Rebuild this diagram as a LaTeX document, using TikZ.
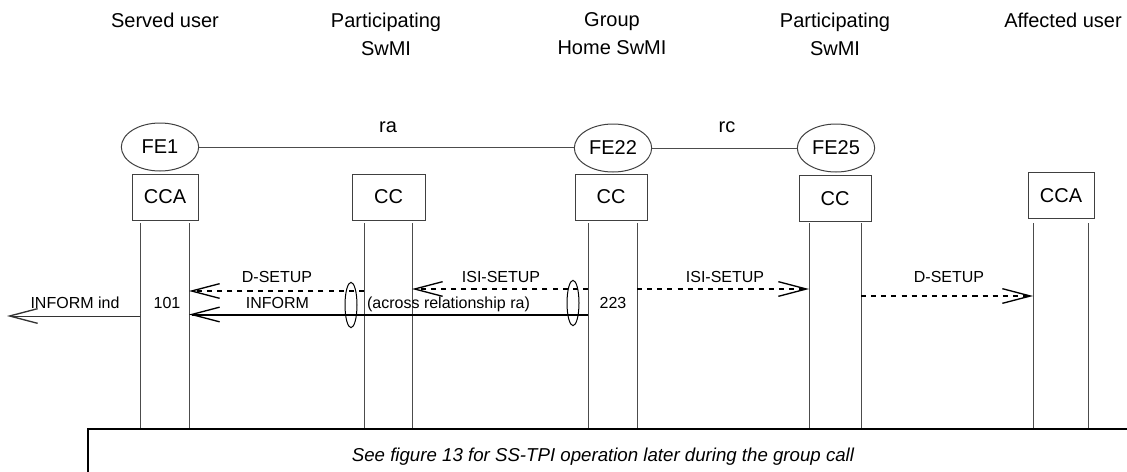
\documentclass[tikz,border=0pt]{standalone}
\usepackage{fontspec}
\setmainfont{Liberation Sans}
\usetikzlibrary{arrows.meta,shapes.geometric}
\tikzset{
  head/.style={anchor=north,inner sep=0pt,align=center,font=\fontsize{15}{21}\selectfont},
  fe/.style={ellipse,draw=black!75,line width=0.75pt,minimum width=58pt,minimum height=36pt,inner sep=0pt,font=\fontsize{15}{18}\selectfont},
  fbox/.style={rectangle,draw=black!75,line width=0.75pt,minimum height=34.5pt,inner sep=0pt,font=\fontsize{15}{18}\selectfont},
  life/.style={draw=black!70,line width=0.75pt},
  rel/.style={draw=black!70,line width=0.75pt},
  lbl/.style={anchor=base,inner sep=0pt,font=\fontsize{12}{14}\selectfont},
  barb/.style={-{Straight Barb[length=21pt,width=11pt,line width=1pt]}},
  sig/.style={barb,line width=1.2pt,dash pattern=on 3.8pt off 3.8pt},
  inform/.style={barb,line width=1.5pt},
  prim/.style={barb,line width=0.75pt,draw=black!80},
  cross/.style={ellipse,draw,line width=0.75pt,minimum width=9pt,minimum height=34pt,inner sep=0pt}
}
\begin{document}
\begin{tikzpicture}[x=0.75pt,y=-0.75pt]
\useasboundingbox (0,0) rectangle (1127,471);
% headings
\node[head] (h1) at (165,12.5) {Served user};
\node[head] (h2) at (386,12.5) {Participating\\SwMI};
\node[head] (h3) at (612,12.5) {Group\\Home SwMI};
\node[head] (h4) at (835,12.5) {Participating\\SwMI};
\node[head] (h5) at (1063,12.5) {Affected user};
% functional entities
\node[fe] (fe1) at (160,147) {FE1};
\node[fe] (fe22) at (613,148) {FE22};
\node[fe] (fe25) at (836,148) {FE25};
\draw[rel] (fe1) -- (fe1 -| fe22.west);
\draw[rel] (fe22) -- (fe25);
\node[lbl] (ra) at (388,132) {\fontsize{15}{18}\selectfont ra};
\node[lbl] (rc) at (727,132) {\fontsize{15}{18}\selectfont rc};
% boxes
\node[fbox,minimum width=49.5pt] (cca1) at (165,197) {CCA};
\node[fbox,minimum width=54.75pt] (cc2) at (388.5,197) {CC};
\node[fbox,minimum width=54pt] (cc3) at (611,197) {CC};
\node[fbox,minimum width=54pt] (cc4) at (835,198.5) {CC};
\node[fbox,minimum width=49.5pt] (cca5) at (1061,195.5) {CCA};
% lifelines
\foreach \x/\n in {140/u1l,189/u1r,364/c2l,412/c2r,588/c3l,637/c3r,809/c4l,861/c4r,1033/u5l,1088/u5r}{
  \coordinate (\n) at (\x,223);
  \draw[life] (\n) -- ++(0,206);
}
% message heights
\coordinate (m1) at (0,291);
\coordinate (m2) at (0,289);
\coordinate (m3) at (0,314.5);
\coordinate (m4) at (0,296);
\coordinate (tip) at (7,316);
% flows
\draw[sig] (c2l |- m1) -- (u1r |- m1);
\draw[sig] (c3l |- m2) -- (c2r |- m2);
\draw[inform] (c3l |- m3) -- (u1r |- m3);
\draw[prim] (u1l |- tip) -- (tip);
\draw[sig] (c3r |- m2) -- (c4l |- m2);
\draw[sig] (c4r |- m4) -- (u5l |- m4);
\node[cross] (xa) at (351,305) {};
\node[cross] (xb) at (573,303) {};
% labels
\node[lbl] (l1) at (277,282) {D-SETUP};
\node[lbl] (l2) at (501,282) {ISI-SETUP};
\node[lbl] (l3) at (277.5,308) {INFORM};
\node[lbl] (l4) at (75,308) {INFORM ind};
\node[lbl] (l5) at (167,308) {101};
\node[lbl] (l6) at (448.5,308) {(across relationship ra)};
\node[lbl] (l7) at (613,308) {223};
\node[lbl] (l8) at (725,282) {ISI-SETUP};
\node[lbl] (l9) at (949,282) {D-SETUP};
% note
\draw[line width=1pt] (88,472) -- (88,429) -- (1128,429);
\node[lbl,font=\fontsize{14}{16}\selectfont\itshape] (note) at (603,461) {See figure 13 for SS-TPI operation later during the group call};
\end{tikzpicture}
\end{document}
